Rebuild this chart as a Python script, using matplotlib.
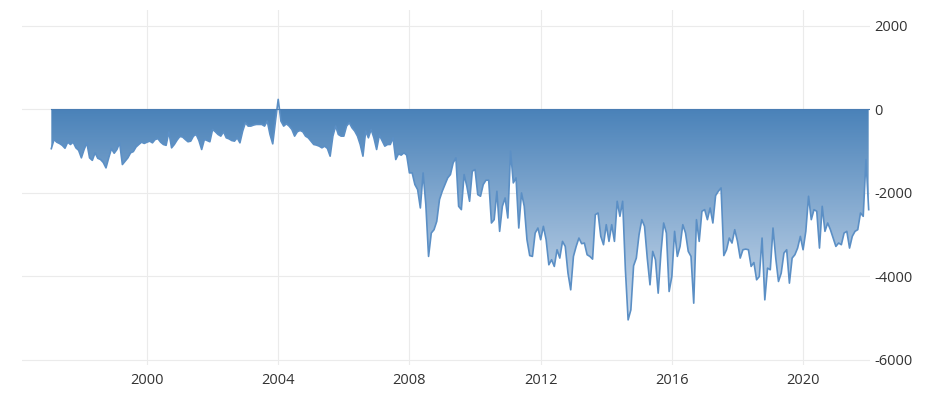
import numpy as np
import matplotlib
matplotlib.use("Agg")
import matplotlib.pyplot as plt
from matplotlib.colors import LinearSegmentedColormap

plt.rcParams['font.family'] = ['Open Sans', 'DejaVu Sans']
plt.rcParams['axes.unicode_minus'] = False

# monthly values, Feb 1997 .. Jan 2022
y1997 = [-940, -720, -785, -816, -860, -930, -785, -840, -785, -920, -980]
y1998 = [-1160, -960, -800, -1160, -1220, -1040, -1170, -1200, -1270, -1400, -1160, -940]
y1999 = [-1050, -960, -800, -1320, -1240, -1160, -1040, -1010, -900, -840, -785, -815]
y2000 = [-785, -760, -800, -720, -700, -785, -840, -860, -540, -920, -840, -735]
y2001 = [-650, -660, -720, -775, -760, -640, -600, -745, -960, -720, -745, -775]
y2002 = [-480, -535, -600, -640, -535, -680, -705, -745, -760, -680, -800, -520]
y2003 = [-320, -400, -400, -375, -360, -360, -360, -400, -280, -600, -825, -280]
y2004 = [240, -280, -400, -345, -400, -480, -640, -535, -505, -535, -640, -680]
y2005 = [-760, -840, -855, -880, -920, -880, -935, -1120, -640, -400, -600, -640]
y2006 = [-640, -400, -320, -440, -520, -640, -840, -1120, -520, -680, -480, -680]
y2007 = [-960, -615, -745, -880, -840, -840, -680, -1200, -1065, -1095, -1040, -1095]
y2008 = [-1520, -1520, -1800, -1920, -2360, -1520, -2280, -3520, -2960, -2880, -2680, -2160]
y2009 = [-1960, -1800, -1640, -1560, -1280, -1160, -2320, -2400, -1560, -1840, -2200, -1480]
y2010 = [-1440, -2040, -2080, -1800, -1695, -1695, -2720, -2640, -1960, -2920, -2320, -2120]
y2011 = [-2600, -1000, -1760, -1640, -2840, -2000, -2320, -3120, -3500, -3520, -2960, -2840]
y2012 = [-3120, -2800, -3120, -3720, -3600, -3760, -3360, -3560, -3160, -3280, -3920, -4320]
y2013 = [-3520, -3280, -3080, -3215, -3200, -3480, -3520, -3585, -2520, -2480, -3040, -3240]
y2014 = [-2760, -3160, -2760, -3160, -2200, -2560, -2200, -3840, -5040, -4800, -3745, -3560]
y2015 = [-3000, -2640, -2800, -3560, -4200, -3400, -3600, -4400, -3440, -2720, -2960, -4360]
y2016 = [-4000, -2920, -3520, -3280, -2760, -2960, -3400, -3520, -4640, -2640, -3160, -2440]
y2017 = [-2400, -2640, -2360, -2720, -2065, -1960, -1880, -3500, -3360, -3080, -3200, -2880]
y2018 = [-3160, -3560, -3360, -3345, -3360, -3760, -3665, -4080, -4000, -3080, -4560, -3800]
y2019 = [-3840, -2840, -3560, -4120, -3920, -3440, -3360, -4160, -3560, -3480, -3320, -3040]
y2020 = [-3360, -2920, -2080, -2640, -2400, -2440, -3320, -2320, -2920, -2720, -2880, -3080]
y2021 = [-3280, -3200, -3240, -2960, -2920, -3320, -3040, -2920, -2880, -2480, -2560, -1200]
y2022 = [-2400]

values = np.array(y1997 + y1998 + y1999 + y2000 + y2001 + y2002 + y2003 + y2004
                  + y2005 + y2006 + y2007 + y2008 + y2009 + y2010 + y2011 + y2012
                  + y2013 + y2014 + y2015 + y2016 + y2017 + y2018 + y2019 + y2020
                  + y2021 + y2022, dtype=float)
years = 1997 + 1/12 + np.arange(len(values)) / 12

xticks = [2000, 2004, 2008, 2012, 2016, 2020]
yticks = [2000, 0, -2000, -4000, -6000]

fig = plt.figure(figsize=(9.33, 4.03), dpi=100)
ax = fig.add_axes([22/933, 38/403, 848/933, 355/403])
ax.set_xlim(1996.19, 2022.04)
ax.set_ylim(-6120, 2380)

# gradient fill between 0 and the series
cmap = LinearSegmentedColormap.from_list("g", ["#4a82b9", "#dce6f2"])
grad = np.linspace(0, 1, 256).reshape(-1, 1)
img = ax.imshow(grad, cmap=cmap, aspect='auto', extent=[years[0], years[-1], -5600, 0],
                origin='upper', zorder=1)
poly = ax.fill_between(years, values, 0, color='none', lw=0)
img.set_clip_path(poly.get_paths()[0], transform=ax.transData)
ax.plot(years, values, color='#5b8fc5', lw=1.2, zorder=3)
ax.plot([years[0], years[-1]], [0, 0], color='#4a7db3', lw=0.8, zorder=3)

ax.set_xticks(xticks)
ax.set_xticklabels([str(t) for t in xticks])
ax.set_yticks(yticks)
ax.set_yticklabels([str(t) for t in yticks])
ax.yaxis.tick_right()
ax.tick_params(length=0, labelsize=10.5, colors='#333333')
ax.tick_params(axis='y', pad=3)
ax.tick_params(axis='x', pad=6)
ax.grid(True, color='#ebebeb', lw=0.8)
ax.set_axisbelow(True)
for s in ax.spines.values():
    s.set_visible(False)

fig.savefig("out.png", dpi=100)
